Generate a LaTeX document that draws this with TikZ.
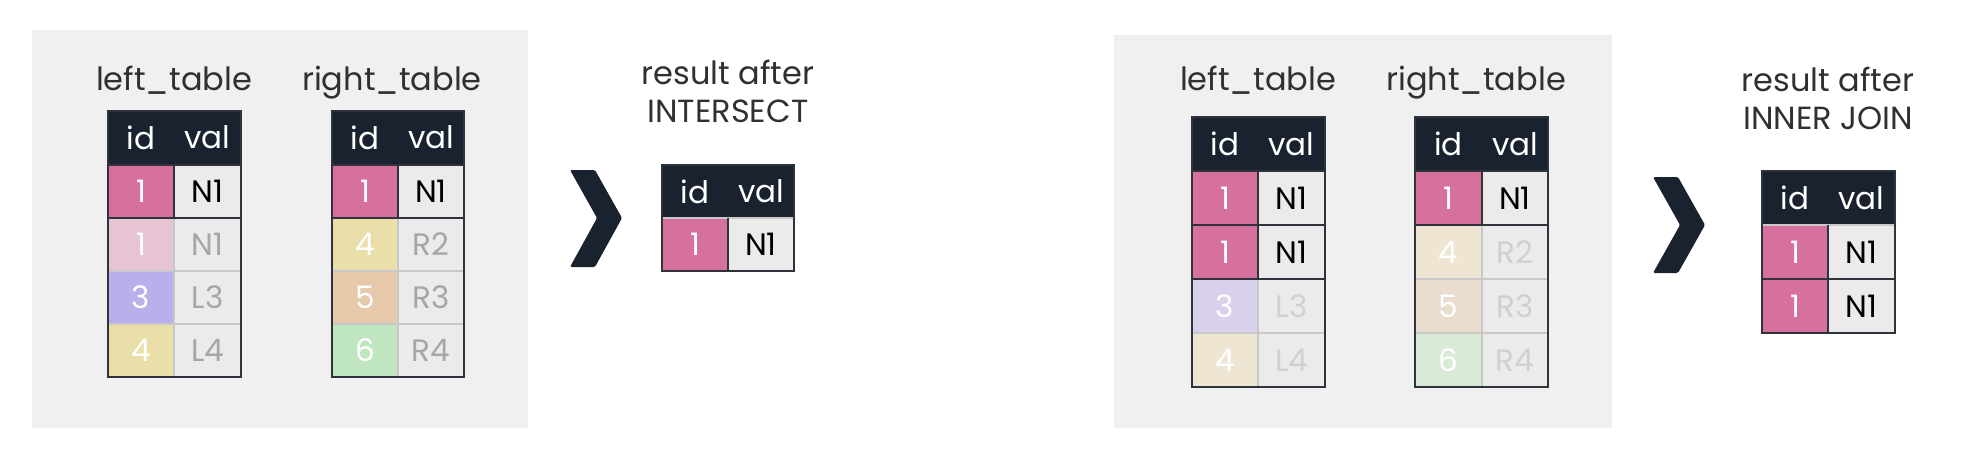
\documentclass[tikz,border=0pt]{standalone}
\usepackage{fontspec}
\setmainfont{Poppins}
\definecolor{navy}{HTML}{1A2230}
\definecolor{framedark}{HTML}{2E333C}
\definecolor{panelgray}{HTML}{F0F0F0}
\definecolor{cellgray}{HTML}{EBEBEB}
\definecolor{linegray}{HTML}{C8C8C8}
\definecolor{titlegray}{HTML}{303030}
\definecolor{fadetext}{HTML}{A6A6A6}
\definecolor{paletext}{HTML}{D0D0D0}
\definecolor{pink}{HTML}{D6719E}
\definecolor{pinklt}{HTML}{E7C4D3}
\definecolor{lavender}{HTML}{B9AFEA}
\definecolor{lavenderlt}{HTML}{D9D1EC}
\definecolor{sand}{HTML}{EADFA9}
\definecolor{sandlt}{HTML}{EEE6D3}
\definecolor{peach}{HTML}{E6C9A8}
\definecolor{peachlt}{HTML}{EADCCF}
\definecolor{mint}{HTML}{BFE6BE}
\definecolor{mintlt}{HTML}{D9EAD6}

\begin{document}
\begin{tikzpicture}[
   x=1pt, y=-1pt,
   every node/.append style={font=\fontsize{31}{38}\selectfont},
   cell/.style={anchor=north west, inner sep=0pt, outer sep=0pt,
      minimum height=53pt, line width=1.5pt, draw=linegray},
   idcell/.style={cell, minimum width=#1, text=white},
   valcell/.style={cell, minimum width=#1, fill=cellgray},
   head/.style={fill=navy, draw=navy, text=white},
   frame/.style={draw=framedark, line width=2.4pt},
   title/.style={anchor=base, text=titlegray, inner sep=0pt,
      font=\fontsize{32}{38}\selectfont},
   result/.style={title, anchor=north, align=center}  % <-- two lines
]
\useasboundingbox (0,0) rectangle (1964,474);

% ---- INTERSECT ----
\fill[panelgray] (32,30) rectangle (528,428);
\node[title] (a-lname) at (174,90) {left\_table};
\node[title] (a-rname) at (392,90) {right\_table};

\node[idcell=66pt, head] (a-l-h1) at (108,111) {id};
\node[valcell=67pt, head] (a-l-h2) at (174,111) {val};
\foreach \r/\idv/\vv/\f/\tc in {1/1/N1/pink/black, 2/1/N1/pinklt/fadetext,
      3/3/L3/lavender/fadetext, 4/4/L4/sand/fadetext}{
   \node[idcell=66pt, fill=\f] (a-l-id\r) at (108,{165+(\r-1)*53}) {\idv};
   \node[valcell=67pt, text=\tc] (a-l-val\r) at (174,{165+(\r-1)*53}) {\vv};
}
\draw[frame] (a-l-id1.north west) rectangle (a-l-val1.south east)
   (a-l-id1.north east) -- (a-l-id1.south east);
\draw[frame] (a-l-h1.north west) rectangle (a-l-val4.south east);

\node[idcell=66pt, head] (a-r-h1) at (332,111) {id};
\node[valcell=66pt, head] (a-r-h2) at (398,111) {val};
\foreach \r/\idv/\vv/\f/\tc in {1/1/N1/pink/black, 2/4/R2/sand/fadetext,
      3/5/R3/peach/fadetext, 4/6/R4/mint/fadetext}{
   \node[idcell=66pt, fill=\f] (a-r-id\r) at (332,{165+(\r-1)*53}) {\idv};
   \node[valcell=66pt, text=\tc] (a-r-val\r) at (398,{165+(\r-1)*53}) {\vv};
}
\draw[frame] (a-r-id1.north west) rectangle (a-r-val1.south east)
   (a-r-id1.north east) -- (a-r-id1.south east);
\draw[frame] (a-r-h1.north west) rectangle (a-r-val4.south east);

\fill[navy, rounded corners=1.5pt] (570,170) -- (595,170) -- (622,218)
   -- (595,267) -- (570,267) -- (597,218) -- cycle;

\node[result] (a-res) at (728,60) {result after\\INTERSECT};
\node[idcell=66pt, head] (a-o-h1) at (662,165) {id};
\node[valcell=66pt, head] (a-o-h2) at (728,165) {val};
\node[idcell=66pt, fill=pink] (a-o-id1) at (662,218) {1};
\node[valcell=66pt, text=black] (a-o-val1) at (728,218) {N1};
\draw[frame] (a-o-h1.north west) rectangle (a-o-val1.south east)
   (a-o-id1.north east) -- (a-o-id1.south east);

% ---- INNER JOIN ----
\fill[panelgray] (1114,35) rectangle (1612,428);
\node[title] (b-lname) at (1258,90) {left\_table};
\node[title] (b-rname) at (1476,90) {right\_table};

\begin{scope}[cell/.append style={minimum height=54pt}]
\node[idcell=66pt, head] (b-l-h1) at (1192,117) {id};
\node[valcell=67pt, head] (b-l-h2) at (1258,117) {val};
\foreach \r/\idv/\vv/\f/\tc in {1/1/N1/pink/black, 2/1/N1/pink/black,
      3/3/L3/lavenderlt/paletext, 4/4/L4/sandlt/paletext}{
   \node[idcell=66pt, fill=\f] (b-l-id\r) at (1192,{171+(\r-1)*54}) {\idv};
   \node[valcell=67pt, text=\tc] (b-l-val\r) at (1258,{171+(\r-1)*54}) {\vv};
}
\draw[frame] (b-l-id1.north west) rectangle (b-l-val2.south east)
   (b-l-id1.north east) -- (b-l-id2.south east)
   (b-l-id1.south west) -- (b-l-val1.south east);
\draw[frame] (b-l-h1.north west) rectangle (b-l-val4.south east);

\node[idcell=67pt, head] (b-r-h1) at (1415,117) {id};
\node[valcell=66pt, head] (b-r-h2) at (1482,117) {val};
\foreach \r/\idv/\vv/\f/\tc in {1/1/N1/pink/black, 2/4/R2/sandlt/paletext,
      3/5/R3/peachlt/paletext, 4/6/R4/mintlt/paletext}{
   \node[idcell=67pt, fill=\f] (b-r-id\r) at (1415,{171+(\r-1)*54}) {\idv};
   \node[valcell=66pt, text=\tc] (b-r-val\r) at (1482,{171+(\r-1)*54}) {\vv};
}
\draw[frame] (b-r-id1.north west) rectangle (b-r-val1.south east)
   (b-r-id1.north east) -- (b-r-id1.south east);
\draw[frame] (b-r-h1.north west) rectangle (b-r-val4.south east);

\fill[navy, rounded corners=1.5pt] (1653,177) -- (1678,177) -- (1705,225)
   -- (1678,273) -- (1653,273) -- (1680,225) -- cycle;

\node[result] (b-res) at (1828,67) {result after\\INNER JOIN};
\node[idcell=66pt, head] (b-o-h1) at (1762,171) {id};
\node[valcell=67pt, head] (b-o-h2) at (1828,171) {val};
\foreach \r in {1,2}{
   \node[idcell=66pt, fill=pink] (b-o-id\r) at (1762,{225+(\r-1)*54}) {1};
   \node[valcell=67pt, text=black] (b-o-val\r) at (1828,{225+(\r-1)*54}) {N1};
}
\draw[frame] (b-o-h1.north west) rectangle (b-o-val2.south east)
   (b-o-id1.north east) -- (b-o-id2.south east)
   (b-o-id1.south west) -- (b-o-val1.south east);
\end{scope}
\end{tikzpicture}
\end{document}
